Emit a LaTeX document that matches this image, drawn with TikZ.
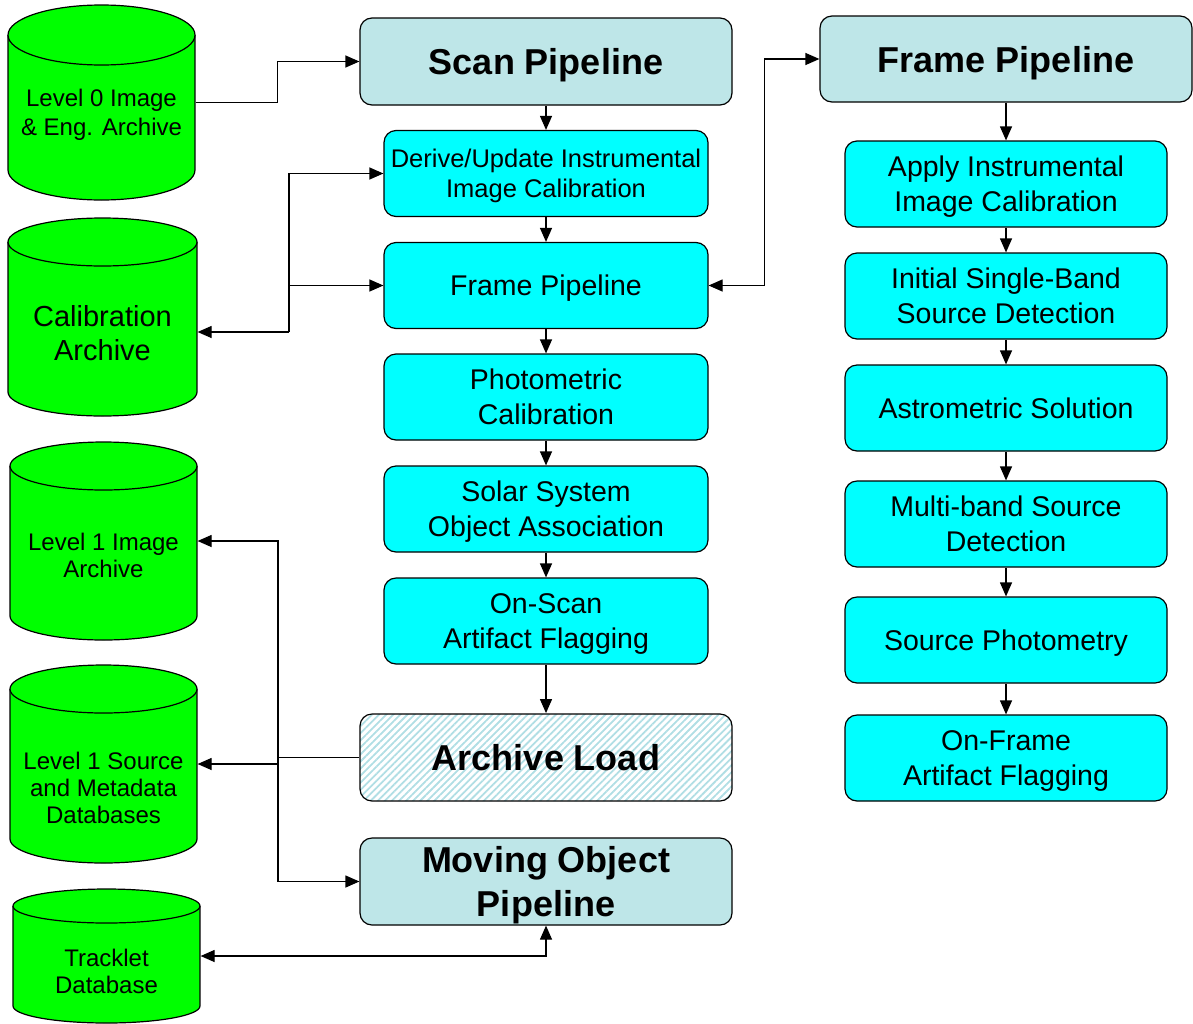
\documentclass[tikz,border=0pt]{standalone}
\usepackage{fontspec}
\setmainfont{Liberation Sans}
\usetikzlibrary{arrows.meta,patterns.meta}
\definecolor{dbgreen}{RGB}{0,255,0}
\definecolor{boxcyan}{RGB}{0,255,255}
\definecolor{hdrblue}{RGB}{190,230,232}
\definecolor{hatchblue}{RGB}{176,222,228}
\newcommand\dbcyl[6]{%
  \pgfmathsetmacro\dbcx{(#2+#3)/2}%
  \pgfmathsetmacro\dbrx{(#3-#2)/2}%
  \pgfmathsetmacro\dbty{#4+#6}%
  \pgfmathsetmacro\dbby{#5-#6}%
  \pgfmathsetmacro\dbw{#3-#2}%
  \pgfmathsetmacro\dbh{#5-#4}%
  \pgfmathsetmacro\dbcy{(#4+#5)/2}%
  \fill[dbgreen] (#2,\dbty) rectangle (#3,\dbby);
  \fill[dbgreen] (\dbcx,\dbby) ellipse [x radius=\dbrx, y radius=#6];
  \draw (#2,\dbty) -- (#2,\dbby) arc[start angle=180, end angle=0, x radius=\dbrx, y radius=#6] -- (#3,\dbty);
  \filldraw[fill=dbgreen] (\dbcx,\dbty) ellipse [x radius=\dbrx, y radius=#6];
  \node[inner sep=0, minimum width=\dbw pt, minimum height=\dbh pt] (#1) at (\dbcx,\dbcy) {};
}
\begin{document}
\begin{tikzpicture}[x=1pt,y=-1pt,line width=1.2pt,
  tip/.tip={Triangle[length=14pt,width=12pt]},
  arr/.style={-tip},
  darr/.style={tip-tip},
  boxbase/.style={draw, rounded corners=12pt, inner sep=0, align=center, text depth=0pt},
  hdr/.style={boxbase, fill=hdrblue, minimum width=372pt, minimum height=87pt,
    font=\fontsize{36}{44}\selectfont\bfseries},
  hatchbox/.style={boxbase, pattern={Lines[angle=45,distance=5pt,line width=1.8pt]},
    pattern color=hatchblue, minimum width=372pt, minimum height=87pt,
    font=\fontsize{36}{44}\selectfont\bfseries},
  stepbox/.style={boxbase, fill=boxcyan, minimum width=324pt, minimum height=86pt,
    font=\fontsize{28.5}{35}\selectfont},
  cyltext/.style={inner sep=0, align=center, font=\fontsize{24}{27}\selectfont},
]
\useasboundingbox (0,0) rectangle (1193,1023);

% databases
\dbcyl{l0}{8}{195}{5}{200}{30}
\node[cyltext, font=\fontsize{24}{29}\selectfont] (l0t) at (101.5,115) {Level 0 Image\\\& Eng. Archive};
\dbcyl{calib}{8}{197}{218}{416}{24}
\node[cyltext, font=\fontsize{29}{34}\selectfont] (calibt) at (102.5,333) {Calibration\\Archive};
\dbcyl{l1img}{10}{197}{442}{640}{24}
\node[cyltext] (l1imgt) at (103.5,555) {Level 1 Image\\Archive};
\dbcyl{l1src}{10}{197}{665}{863}{24}
\node[cyltext] (l1srct) at (103.5,788) {Level 1 Source\\and Metadata\\Databases};
\dbcyl{track}{13}{200}{889}{1023}{17}
\node[cyltext] (trackt) at (106.5,971) {Tracklet\\Database};

% middle column
\node[hdr] (scan) at (546,61.5) {Scan Pipeline};
\node[stepbox, font=\fontsize{25.5}{30}\selectfont] (derive) at (546,173.5) {Derive/Update Instrumental\\Image Calibration};
\node[stepbox] (frameA) at (546,285.5) {Frame Pipeline};
\node[stepbox] (photo) at (546,397) {Photometric\\Calibration};
\node[stepbox] (solar) at (546,509) {Solar System\\Object Association};
\node[stepbox] (onscan) at (546,621) {On-Scan\\Artifact Flagging};
\node[hatchbox] (archive) at (546,757.5) {Archive Load};
\node[hdr] (mop) at (546,881.5) {Moving Object\\Pipeline};

% right column
\node[hdr, minimum height=86pt] (frameB) at (1006,59) {Frame Pipeline};
\node[stepbox, minimum width=322pt] (apply) at (1006,184) {Apply Instrumental\\Image Calibration};
\node[stepbox, minimum width=322pt] (initial) at (1006,296) {Initial Single-Band\\Source Detection};
\node[stepbox, minimum width=322pt] (astro) at (1006,408) {Astrometric Solution};
\node[stepbox, minimum width=322pt] (multi) at (1006,524) {Multi-band Source\\Detection};
\node[stepbox, minimum width=322pt] (photom) at (1006,640) {Source Photometry};
\node[stepbox, minimum width=322pt] (onframe) at (1006,758) {On-Frame\\Artifact Flagging};

% vertical flows
\foreach \a/\b in {scan/derive, derive/frameA, frameA/photo, photo/solar, solar/onscan, onscan/archive,
  frameB/apply, apply/initial, initial/astro, astro/multi, multi/photom, photom/onframe}
  \draw[arr] (\a.south) -- (\b.north);

% level 0 to scan pipeline
\draw[arr] (l0.east) -- ++(82,0) |- (scan.west);

% calibration archive links
\coordinate (cj) at (289,332);
\draw[arr] (cj) -- (cj -| calib.east);
\draw[arr] (cj) |- (derive.west);
\draw[arr] (cj |- frameA.west) -- (frameA.west);

% frame pipeline link
\draw[darr] (frameA.east) -- ++(56,0) |- (frameB.west);

% archive load distribution
\coordinate (aj) at (278,757.5);
\draw (archive.west) -- (aj);
\draw[arr] (aj) |- (l1img.east);
\draw[arr] (aj) |- (mop.west);
\draw[arr] (aj |- l1src.east) -- (l1src.east);

% tracklet database
\draw[darr] (track.east) -| (mop.south);
\end{tikzpicture}
\end{document}
